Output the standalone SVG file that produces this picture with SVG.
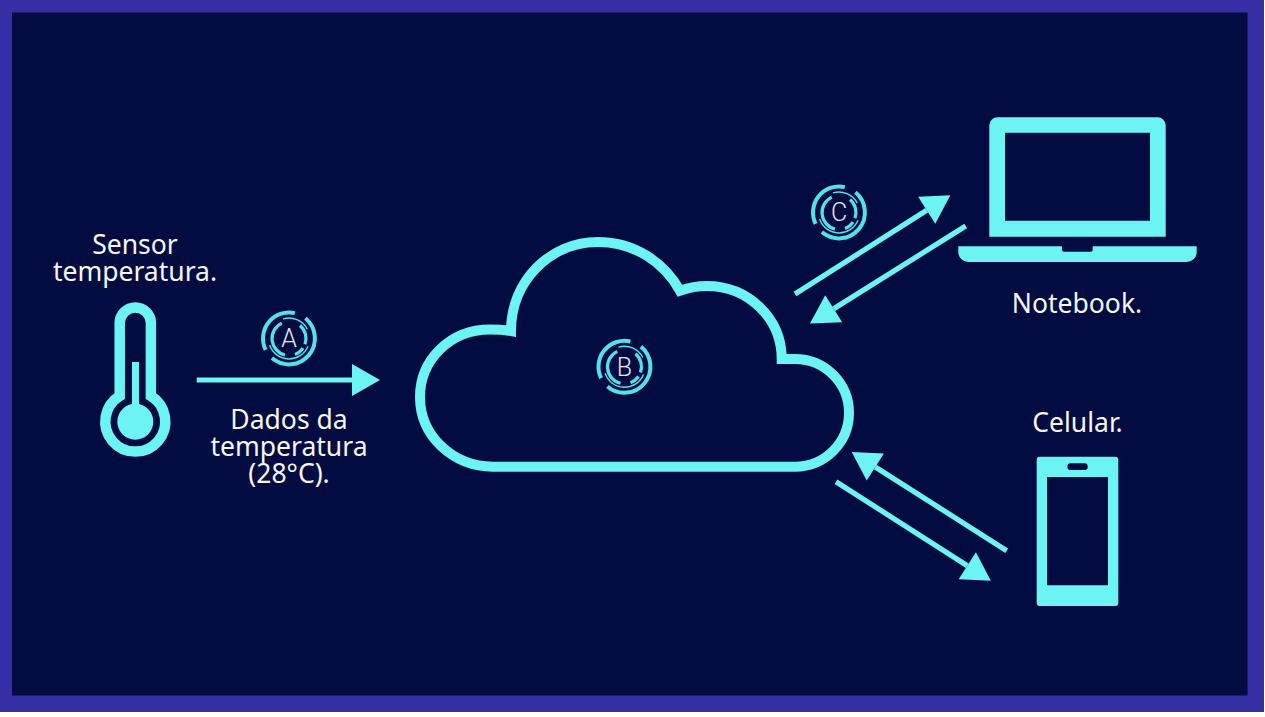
<svg xmlns="http://www.w3.org/2000/svg" xmlns:xlink="http://www.w3.org/1999/xlink" width="1265" height="717" viewBox="0 0 1265 717">
<style>
.c{fill:#6cf3f3}
.cs{fill:none;stroke:#6cf3f3}
.t{font-family:"Noto Sans","Open Sans",sans-serif;font-weight:380;font-size:26.500px;fill:#f6f6fc;text-anchor:middle}
.l{font-family:Roboto,"Liberation Sans",sans-serif;font-weight:300;font-size:25px;fill:#e6e6f2;text-anchor:middle}
.w{fill:none;stroke:#6cf3f3;stroke-width:5.2}
</style>
<defs>
<marker id="head" markerUnits="userSpaceOnUse" markerWidth="28" markerHeight="32" refX="0" refY="16" orient="auto" overflow="visible"><path d="M0 0L28 16L0 32Z" fill="#6cf3f3"/></marker>
<g id="badge" fill="none" stroke="#52e2e8">
<path stroke-width="4" d="M5.850 -25.330A26 26 0 0 0 -23.370 11.400"/>
<path stroke-width="4" d="M16.400 -20.200A26 26 0 1 1 -17.060 19.600"/>
<path stroke-width="1.400" d="M-6 -19.600A20.500 20.500 0 0 1 18.300 -9.300"/>
<path stroke-width="1.400" d="M-19.400 6.500A20.500 20.500 0 0 0 19 7.700"/>
<path stroke-width="3.200" d="M-7.200 -15.400A17 17 0 0 0 -4 16.500"/>
<path stroke-width="3.200" d="M11 -13A17 17 0 0 1 16 5.700"/>
<path stroke-width="3.200" d="M14 9.600A17 17 0 0 1 6 15.900"/>
</g>
</defs>
<rect x="0" y="0" width="1265" height="717" fill="#fff"/>
<rect x="0" y="0" width="1264" height="712" fill="#352ea5"/>
<rect x="12" y="12.500" width="1235.500" height="683" fill="#030c40"/>

<g id="connectors">
<line class="w" x1="196.700" y1="380" x2="352" y2="380" marker-end="url(#head)"/>
<line class="w" x1="795" y1="294" x2="926.700" y2="210.300" marker-end="url(#head)"/>
<line class="w" x1="965.700" y1="226" x2="833.700" y2="308.700" marker-end="url(#head)"/>
<line class="w" x1="1006.700" y1="550.700" x2="875.300" y2="467" marker-end="url(#head)"/>
<line class="w" x1="836" y1="481.700" x2="967.300" y2="565.700" marker-end="url(#head)"/>
</g>

<g id="sensor">
<path class="cs" stroke-width="10.500" d="M119.700 396V323A15.600 15.600 0 0 1 150.900 323V396A30 30 0 1 1 119.700 396Z"/>
<rect class="c" x="132" y="362" width="7" height="45"/>
<circle class="c" cx="135.300" cy="421.700" r="18"/>
<text class="t" x="135" y="254">Sensor</text>
<text class="t" x="135" y="281">temperatura.</text>
</g>

<g id="dados">
<text class="t" x="289" y="428.500">Dados da</text>
<text class="t" x="289" y="455.500">temperatura</text>
<text class="t" x="289" y="482.500">(28°C).</text>
</g>

<g id="cloud">
<path class="cs" stroke-width="10" stroke-miterlimit="6" d="M493 466.700H795A54 54 0 0 0 849 413A54 54 0 0 0 795 359H781.700C781.700 318 748 286 706.700 286C697 286 688 288 680 290.700C664 262 634 242 598 242C550 242 511 281 511 331C505 330 498 329.500 490 329.500C450 329.500 420 360 420 397C420 436 453 466.700 493 466.700Z"/>
</g>

<g id="notebook">
<path class="c" fill-rule="evenodd" d="M997.300 117.300H1157.700A8 8 0 0 1 1165.700 125.300V236.700H989.300V125.300A8 8 0 0 1 997.300 117.300ZM1005 132.700V220.700H1150V132.700Z"/>
<path class="c" d="M958.300 246.300H1062V249.700A2 2 0 0 0 1064 251.700H1090.700A2 2 0 0 0 1092.700 249.700V246.300H1196.700V252A10 10 0 0 1 1186.700 262H968.300A10 10 0 0 1 958.300 252Z"/>
<text class="t" x="1077" y="312.500">Notebook.</text>
</g>

<g id="celular">
<path class="c" fill-rule="evenodd" d="M1039.700 456.700H1115.300A3 3 0 0 1 1118.300 459.700V603A3 3 0 0 1 1115.300 606H1039.700A3 3 0 0 1 1036.700 603V459.700A3 3 0 0 1 1039.700 456.700ZM1047 477V585.300H1108V477ZM1070.700 463.300A3.300 3.300 0 0 0 1070.700 470H1084.400A3.300 3.300 0 0 0 1084.400 463.300Z"/>
<text class="t" x="1077.500" y="432">Celular.</text>
</g>

<g id="badge-a"><use xlink:href="#badge" href="#badge" x="289" y="338.500"/><text class="l" x="289" y="347">A</text></g>
<g id="badge-b"><use xlink:href="#badge" href="#badge" x="624.500" y="366.800"/><text class="l" x="624.500" y="375.500">B</text></g>
<g id="badge-c"><use xlink:href="#badge" href="#badge" x="839" y="212.500"/><text class="l" x="839" y="221.300">C</text></g>
</svg>
